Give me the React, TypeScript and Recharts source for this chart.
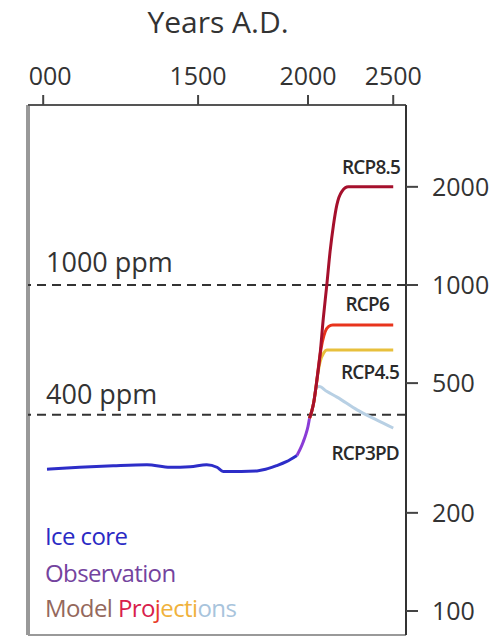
import { LineChart, Line, XAxis, YAxis, ReferenceLine } from 'recharts';

const YEAR_DOMAIN = [961, 2585];
const PPM_DOMAIN = [84.4, 3565];
const YEAR_TICKS = [1000, 1500, 2000, 2500];
const PPM_TICKS = [100, 200, 500, 1000, 2000];

// ice core record
const iceCoreYears = [1010, 1100, 1201, 1312, 1394, 1469, 1534, 1576, 1602, 1680, 1750, 1790, 1842, 1890, 1943];
const iceCorePpm = [272, 276, 279, 281, 276, 277, 281, 276, 268, 268, 269, 272, 279, 287, 300];

// instrumental observations
const obsYears = [1943, 1960, 1975, 1990, 2000, 2008];
const obsPpm = [300, 314, 330, 350, 368, 390];

// model projections
const rcp3pdYears = [2008, 2020, 2030, 2042, 2060, 2100, 2158, 2274, 2396, 2500];
const rcp3pdPpm = [390, 410, 435, 485, 488, 472, 453, 414, 385, 364];

const rcp45Years = [2008, 2020, 2030, 2040, 2046, 2064, 2085, 2101, 2500];
const rcp45Ppm = [390, 410, 435, 475, 505, 580, 620, 632, 632];

const rcp6Years = [2008, 2020, 2030, 2040, 2046, 2064, 2092, 2110, 2134, 2500];
const rcp6Ppm = [390, 410, 435, 475, 505, 610, 719, 745, 754, 754];

const rcp85Years = [2008, 2020, 2030, 2040, 2046, 2064, 2082, 2101, 2119, 2138, 2157, 2185, 2223, 2500];
const rcp85Ppm = [390, 410, 435, 475, 505, 610, 792, 1000, 1265, 1528, 1760, 1933, 2000, 2000];

const THRESHOLDS = [1000, 400];

const toPoints = (years: number[], ppm: number[]) =>
  years.map((year, i) => ({ year, ppm: ppm[i] }));

const FONT = '"Open Sans", sans-serif';
const INK = '#333';

function YearTick(props: any) {
  const { x, y, payload } = props;
  // leftmost label is cut off in the source figure
  const label = payload.value === 1000 ? '000' : String(payload.value);
  const dx = payload.value === 1000 ? 7 : 0;
  return (
    <text x={x + dx} y={y} textAnchor="middle" fontFamily={FONT} fontSize={25} fill={INK}>
      {label}
    </text>
  );
}

export default function App() {
  return (
    <div style={{ position: 'absolute', left: 0, top: 0, width: 503, height: 636, background: '#fff', overflow: 'hidden' }}>
      <LineChart width={503} height={636} margin={{ top: 35, right: 0, bottom: 1, left: 28 }}>
        <XAxis
          type="number"
          dataKey="year"
          orientation="top"
          scale="log"
          domain={YEAR_DOMAIN}
          allowDataOverflow
          ticks={YEAR_TICKS}
          height={70}
          tickSize={10}
          tickMargin={10}
          tick={<YearTick />}
          axisLine={{ stroke: '#555', strokeWidth: 2 }}
          tickLine={{ stroke: '#444', strokeWidth: 2 }}
        />
        <YAxis
          type="number"
          dataKey="ppm"
          orientation="right"
          scale="log"
          domain={PPM_DOMAIN}
          allowDataOverflow
          ticks={PPM_TICKS}
          width={97}
          tickSize={12}
          tickMargin={14}
          tick={{ fontFamily: FONT, fontSize: 25, fill: INK }}
          axisLine={{ stroke: '#333', strokeWidth: 2 }}
          tickLine={{ stroke: '#444', strokeWidth: 2 }}
        />
        <ReferenceLine x={YEAR_DOMAIN[0]} stroke="#999" strokeWidth={4} />
        <ReferenceLine y={PPM_DOMAIN[0]} stroke="#999" strokeWidth={2} />
        {THRESHOLDS.map((v) => (
          <ReferenceLine key={v} y={v} stroke="#333" strokeWidth={2} strokeDasharray="9 6" />
        ))}
        <Line data={toPoints(iceCoreYears, iceCorePpm)} dataKey="ppm" type="monotone" stroke="#2d2dc8" strokeWidth={3} dot={false} isAnimationActive={false} />
        <Line data={toPoints(obsYears, obsPpm)} dataKey="ppm" type="monotone" stroke="#8a3cd6" strokeWidth={3} dot={false} isAnimationActive={false} />
        <Line data={toPoints(rcp3pdYears, rcp3pdPpm)} dataKey="ppm" type="monotone" stroke="#b8d0e4" strokeWidth={3} dot={false} isAnimationActive={false} />
        <Line data={toPoints(rcp45Years, rcp45Ppm)} dataKey="ppm" type="monotone" stroke="#e8c03c" strokeWidth={3} dot={false} isAnimationActive={false} />
        <Line data={toPoints(rcp6Years, rcp6Ppm)} dataKey="ppm" type="monotone" stroke="#e8341c" strokeWidth={3} dot={false} isAnimationActive={false} />
        <Line data={toPoints(rcp85Years, rcp85Ppm)} dataKey="ppm" type="monotone" stroke="#a5102c" strokeWidth={3} dot={false} isAnimationActive={false} />
      </LineChart>
      <svg width={503} height={636} style={{ position: 'absolute', left: 0, top: 0, pointerEvents: 'none' }}>
        <text x={218} y={33} textAnchor="middle" fontFamily={FONT} fontSize={30} fill={INK}>Years A.D.</text>
        <text x={46} y={272} fontFamily={FONT} fontSize={27} fill={INK}>1000 ppm</text>
        <text x={46} y={404} fontFamily={FONT} fontSize={27} fill={INK}>400 ppm</text>
        <g fontFamily={FONT} fontSize={19} fontWeight={600} fill="#2a2a2a" textAnchor="end" letterSpacing={-0.8}>
          <text x={400} y={174}>RCP8.5</text>
          <text x={389} y={311}>RCP6</text>
          <text x={399} y={379}>RCP4.5</text>
          <text x={399} y={460}>RCP3PD</text>
        </g>
        <g fontFamily={FONT} fontSize={24} letterSpacing={-0.6}>
          <text x={45} y={545} fill="#2a2ac4">Ice core</text>
          <text x={45} y={582} fill="#74439e">Observation</text>
          <text x={45} y={617}>
            <tspan fill="#94685c">Model </tspan>
            <tspan fill="#d8204c">Pro</tspan>
            <tspan fill="#e83a28">j</tspan>
            <tspan fill="#f0b23c">ecti</tspan>
            <tspan fill="#a8c4dc">ons</tspan>
          </text>
        </g>
      </svg>
    </div>
  );
}
